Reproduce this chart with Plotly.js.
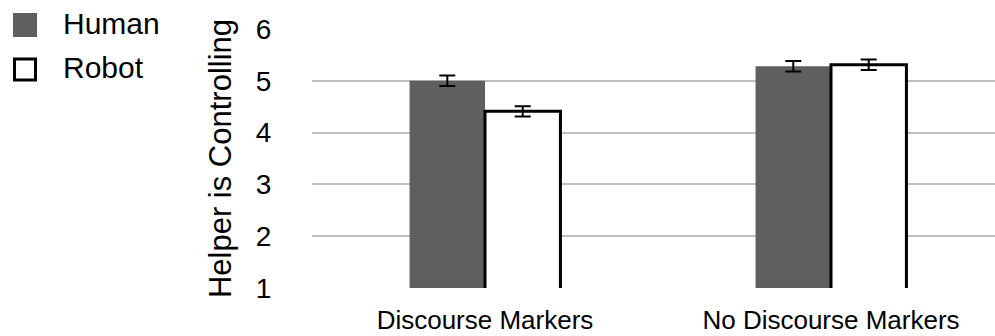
<!DOCTYPE html>
<html>
<head>
<meta charset="utf-8">
<script src="https://cdn.plot.ly/plotly-3.0.1.min.js"></script>
<style>
  html, body { margin: 0; padding: 0; background: #fff; }
  #chart { width: 995px; height: 336px; }
</style>
</head>
<body>
<div id="chart"></div>
<script>
// Conditions on the x axis
const conditions = ['Discourse Markers', 'No Discourse Markers'];

// Mean ratings of "Helper is Controlling" per helper type
const humanMeans = [5.00, 5.28];
const robotMeans = [4.41, 5.31];

// Standard errors
const humanErr = [0.10, 0.10];
const robotErr = [0.10, 0.10];

// Series names and y tick values
const seriesNames = ['Human', 'Robot'];
const yTicks = [1, 2, 3, 4, 5, 6];

const FONT = 'Liberation Sans, Arial, Helvetica, sans-serif';
const HUMAN_FILL = '#5f5f5f';

const errStyle = (arr) => ({
  type: 'data', array: arr, visible: true,
  color: '#000', thickness: 2, width: 8
});

const traces = [
  {
    type: 'bar', name: seriesNames[0], x: conditions, y: humanMeans,
    marker: { color: HUMAN_FILL, line: { width: 0 } },
    error_y: errStyle(humanErr),
    showlegend: false, hoverinfo: 'skip'
  },
  {
    type: 'bar', name: seriesNames[1], x: conditions, y: robotMeans,
    marker: { color: '#ffffff', line: { color: '#000', width: 3 } },
    error_y: errStyle(robotErr),
    showlegend: false, hoverinfo: 'skip'
  }
];

// Legend drawn as swatches and labels to the left of the plot area
const plotLeft = 312, plotRight = 995;
const plotW = plotRight - plotLeft;
const plotTop = 29, plotBottom = 288;
const plotH = plotBottom - plotTop;
const px = (x) => (x - plotLeft) / plotW;
const py = (y) => (plotBottom - y) / plotH;

const shapes = [
  { type: 'rect', xref: 'paper', yref: 'paper',
    x0: px(13), x1: px(37), y0: py(37), y1: py(13),
    fillcolor: HUMAN_FILL, line: { width: 0 } },
  { type: 'rect', xref: 'paper', yref: 'paper',
    x0: px(14.5), x1: px(35.5), y0: py(80), y1: py(59),
    fillcolor: '#ffffff', line: { color: '#000', width: 3 } }
];

const annotations = [
  { text: seriesNames[0], xref: 'paper', yref: 'paper',
    x: px(61), y: py(23), xanchor: 'left', yanchor: 'middle',
    showarrow: false, font: { family: FONT, size: 30, color: '#000' } },
  { text: seriesNames[1], xref: 'paper', yref: 'paper',
    x: px(61), y: py(67), xanchor: 'left', yanchor: 'middle',
    showarrow: false, font: { family: FONT, size: 30, color: '#000' } }
];

const layout = {
  width: 995, height: 336,
  margin: { l: plotLeft, r: 0, t: plotTop, b: 336 - plotBottom, pad: 0 },
  paper_bgcolor: '#fff', plot_bgcolor: '#fff',
  font: { family: FONT, color: '#000' },
  barmode: 'group', bargap: 0.564, bargroupgap: 0,
  showlegend: false,
  xaxis: {
    type: 'category',
    range: [-0.5, 1.474],
    showgrid: false, zeroline: false, showline: false,
    ticks: 'outside', ticklen: 9, tickcolor: 'rgba(0,0,0,0)',
    tickfont: { family: FONT, size: 26, color: '#000' },
    fixedrange: true
  },
  yaxis: {
    range: [1, 6],
    tickvals: yTicks,
    showgrid: true, gridcolor: '#bfbfbf', gridwidth: 2,
    zeroline: false, showline: false,
    ticks: 'outside', ticklen: 34, tickcolor: 'rgba(0,0,0,0)',
    tickfont: { family: FONT, size: 28, color: '#000' },
    title: { text: 'Helper is Controlling', standoff: 14,
             font: { family: FONT, size: 31, color: '#000' } },
    automargin: false,
    fixedrange: true
  },
  shapes: shapes,
  annotations: annotations
};

Plotly.newPlot('chart', traces, layout, { displayModeBar: false, staticPlot: true });
</script>
</body>
</html>
